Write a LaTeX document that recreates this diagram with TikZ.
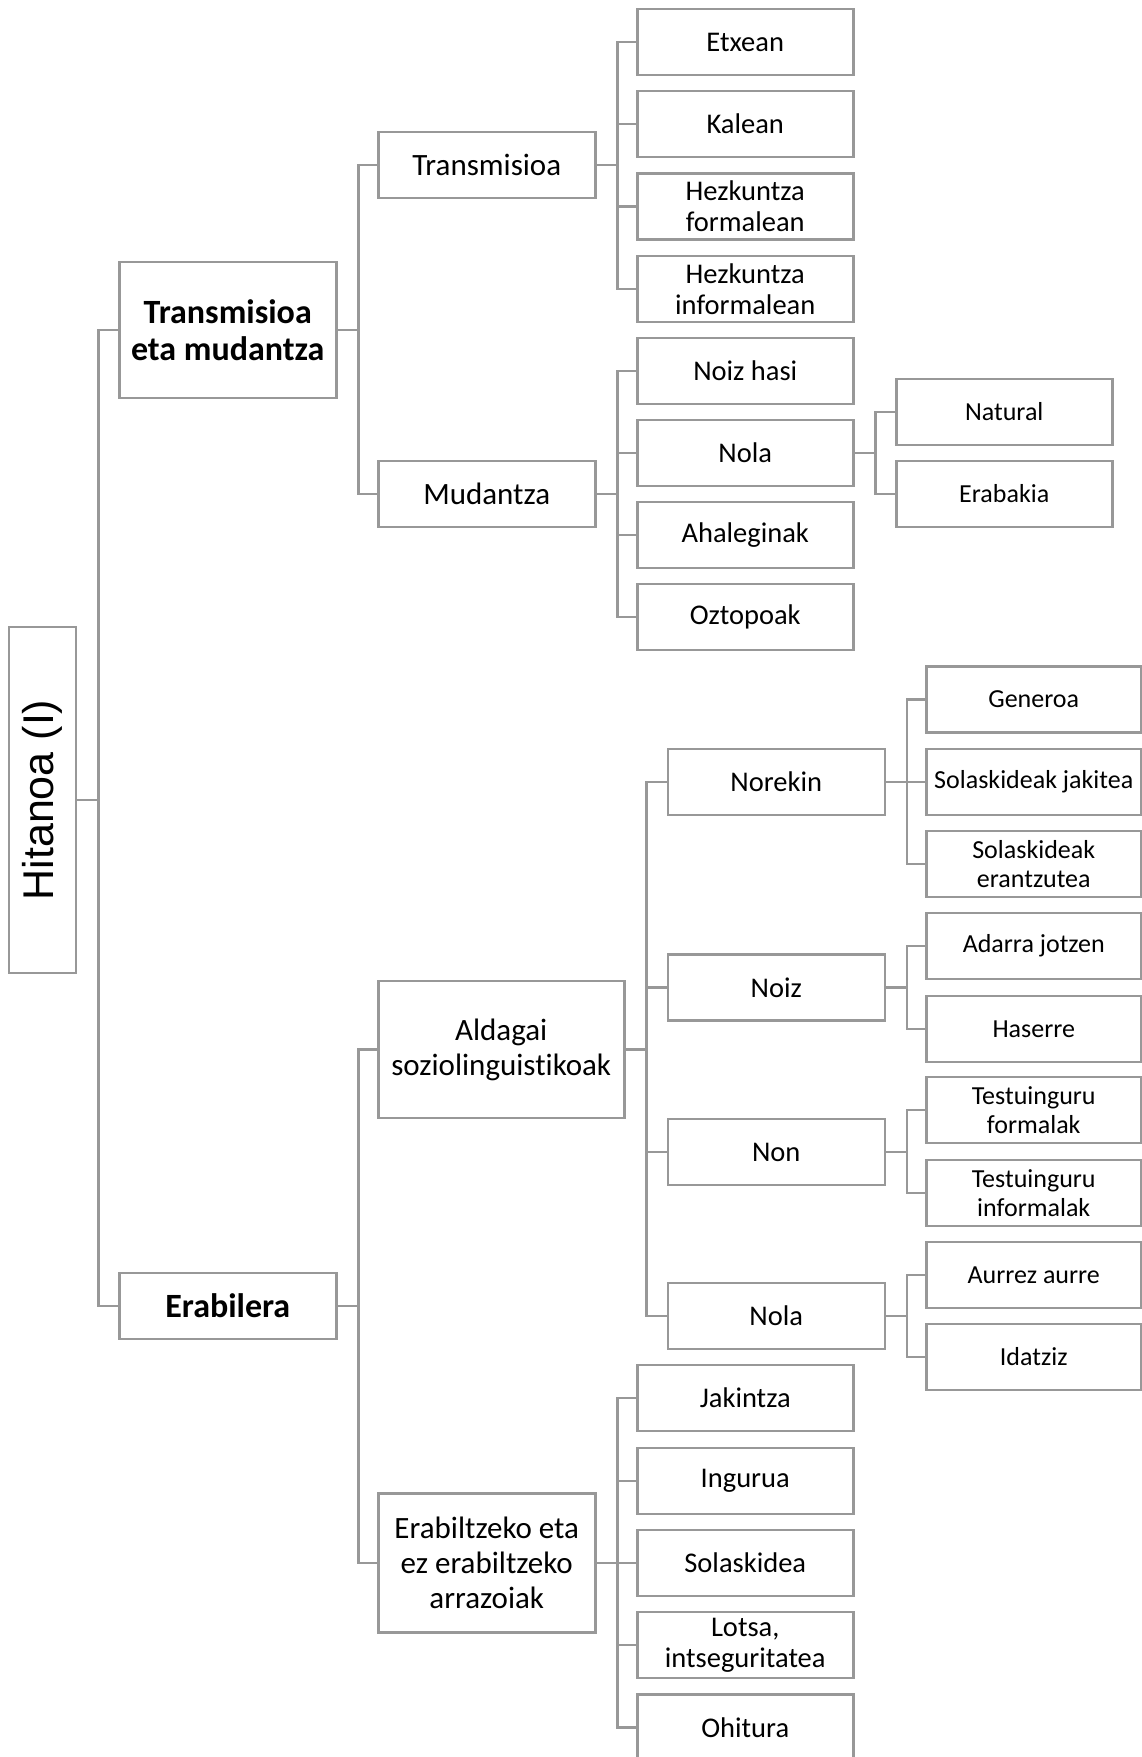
\documentclass[tikz,border=0pt]{standalone}
\usepackage{fontspec}
\setmainfont{Carlito}[Ligatures={NoCommon}]
\newfontfamily\arialfont{Liberation Sans}

\definecolor{linegray}{RGB}{152,152,152}

\tikzset{
  box/.style={draw=linegray, line width=2.5pt, fill=white, align=center, inner sep=0pt,
    anchor=west, minimum height=66pt, minimum width=216pt},
  topbox/.style={box, minimum width=217pt, font=\fontsize{34}{36.5}\selectfont\bfseries},
  midbox/.style={box, minimum width=217pt, font=\fontsize{31}{35}\selectfont},
  leafbox/.style={box, font=\fontsize{28.5}{31}\selectfont},
  subleaf/.style={box, minimum width=215pt, font=\fontsize{26}{29}\selectfont},
  conn/.style={draw=linegray, line width=2.5pt},
}

\begin{document}
\begin{tikzpicture}[x=1pt,y=-1pt]

% Parameters
\def\colA{118}
\def\colB{377}
\def\colC{636}
\def\colD{666.5}
\def\colE{895}
\def\colF{925}
\def\gap{21}

\useasboundingbox (0,0) rectangle (1141,1757);

% Root
\node[box, anchor=center, minimum width=67pt, minimum height=346pt] (root) at (42.5,800)
  {\arialfont\fontsize{43}{48}\selectfont\rotatebox{90}{Hitanoa (I)}};

% Level 1
\node[topbox, minimum height=136pt] (transmud) at (\colA,330) {Transmisioa\\eta mudantza};
\node[topbox] (erabilera) at (\colA,1306) {Erabilera};
\foreach \c in {transmud, erabilera}
  \draw[conn] (root.east) -- ++(\gap,0) |- (\c.west);

% Level 2
\node[midbox] (transmisioa) at (\colB,165) {Transmisioa};
\node[midbox] (mudantza) at (\colB,494) {Mudantza};
\node[midbox, minimum width=246pt, minimum height=137pt] (aldagai) at (\colB,1049.5) {Aldagai\\soziolinguistikoak};
\node[midbox, minimum height=139pt] (arrazoiak) at (\colB,1563) {Erabiltzeko eta\\ez erabiltzeko\\arrazoiak};
\foreach \p/\c in {transmud/transmisioa, transmud/mudantza, erabilera/aldagai, erabilera/arrazoiak}
  \draw[conn] (\p.east) -- ++(\gap,0) |- (\c.west);

% Transmisioa
\foreach \n/\y/\t in {etxean/42/Etxean, kalean/124/Kalean, hformal/206.5/{Hezkuntza\\formalean},
    hinformal/289/{Hezkuntza\\informalean}} {
  \node[leafbox] (\n) at (\colC,\y) {\t};
  \draw[conn] (transmisioa.east) -- ++(\gap,0) |- (\n.west);
}

% Mudantza
\foreach \n/\y/\t in {noizhasi/371/Noiz hasi, nolaA/453/Nola, ahaleginak/535/Ahaleginak, oztopoak/617/Oztopoak} {
  \node[leafbox] (\n) at (\colC,\y) {\t};
  \draw[conn] (mudantza.east) -- ++(\gap,0) |- (\n.west);
}
\foreach \n/\y/\t in {natural/412/Natural, erabakia/494/Erabakia} {
  \node[subleaf, minimum width=216pt] (\n) at (\colE,\y) {\t};
  \draw[conn] (nolaA.east) -- ++(\gap,0) |- (\n.west);
}

% Aldagai soziolinguistikoak
\foreach \n/\y/\t in {norekin/782/Norekin, noiz/987.7/Noiz, non/1152/Non, nolaB/1316/Nola} {
  \node[leafbox, minimum width=217pt] (\n) at (\colD,\y) {\t};
  \draw[conn] (aldagai.east) -- ++(\gap,0) |- (\n.west);
}
\foreach \p/\n/\y/\t in {norekin/generoa/699.5/Generoa, norekin/jakitea/782/Solaskideak jakitea,
    norekin/erantzutea/864/{Solaskideak\\erantzutea}, noiz/adarra/946/Adarra jotzen,
    noiz/haserre/1029/Haserre, non/tformal/1110/{Testuinguru\\formalak},
    non/tinformal/1193/{Testuinguru\\informalak}, nolaB/aurrez/1275/Aurrez aurre,
    nolaB/idatziz/1357/Idatziz} {
  \node[subleaf] (\n) at (\colF,\y) {\t};
  \draw[conn] (\p.east) -- ++(\gap,0) |- (\n.west);
}

% Arrazoiak
\foreach \n/\y/\t in {jakintza/1398/Jakintza, ingurua/1481/Ingurua, solaskidea/1563/Solaskidea,
    lotsa/1645/{Lotsa,\\intseguritatea}, ohitura/1727.5/Ohitura} {
  \node[leafbox] (\n) at (\colC,\y) {\t};
  \draw[conn] (arrazoiak.east) -- ++(\gap,0) |- (\n.west);
}
\end{tikzpicture}
\end{document}
